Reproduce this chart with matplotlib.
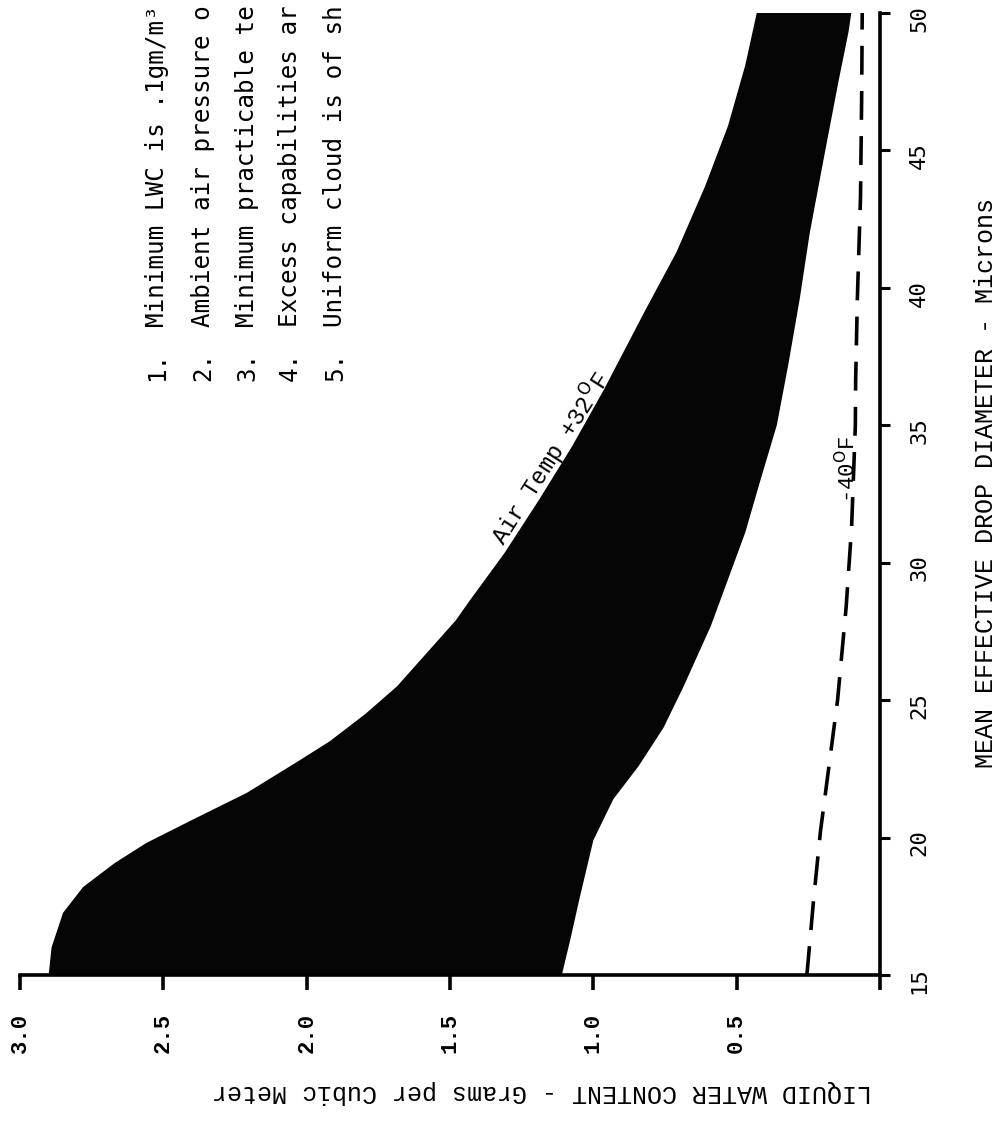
import numpy as np
import matplotlib.pyplot as plt

# drop diameter (microns) vs liquid water content (g/m^3)
outer_d = [15, 16.0, 17.26, 18.2, 19.07, 19.8, 20.64, 21.62, 22.71, 23.5,
           24.5, 25.5, 27.9, 28.64, 30.35, 32.28, 34.2, 36.28, 38.1, 39.2,
           41.3, 43.7, 45.9, 48.1, 50]
outer_lwc = [2.90, 2.89, 2.85, 2.78, 2.67, 2.56, 2.40, 2.21, 2.04, 1.92,
             1.795, 1.685, 1.48, 1.43, 1.31, 1.19, 1.076, 0.964, 0.873, 0.818,
             0.71, 0.61, 0.53, 0.47, 0.43]

inner_d = [15, 16.3, 17.7, 19.9, 21.4, 22.6, 24.0, 25.5, 27.7, 29.4, 31.1,
           32.9, 35.0, 37.2, 39.6, 42.0, 44.5, 47.5, 49.3, 50]
inner_lwc = [1.11, 1.08, 1.05, 1.00, 0.93, 0.842, 0.755, 0.685, 0.59, 0.53,
             0.47, 0.42, 0.36, 0.32, 0.28, 0.245, 0.20, 0.145, 0.11, 0.10]

cold_d = [15, 17.7, 20.2, 22.6, 25.0, 28.4, 31.3, 35.0, 36.6, 39.6, 43.3, 46.9, 50]
cold_lwc = [0.255, 0.232, 0.208, 0.178, 0.148, 0.118, 0.099, 0.086, 0.085,
            0.079, 0.068, 0.064, 0.062]

lwc_ticks = [3.0, 2.5, 2.0, 1.5, 1.0, 0.5, 0.0]
lwc_labels = ["3.0", "2.5", "2.0", "1.5", "1.0", "0.5", ""]
d_ticks = [15, 20, 25, 30, 35, 40, 45, 50]

notes = ["Minimum LWC is .1gm/m³",
         "Ambient air pressure o",
         "Minimum practicable te",
         "Excess capabilities ar",
         "Uniform cloud is of sh"]

W, H = 1002, 1126
fig = plt.figure(figsize=(W / 100, H / 100), dpi=100)
ax = fig.add_axes([20 / W, 151 / H, 860 / W, 962 / H])

# shaded band between the two boundary curves
ax.fill(np.concatenate([outer_lwc, inner_lwc[::-1]]),
        np.concatenate([outer_d, inner_d[::-1]]),
        color="#050505", lw=0)

ax.plot(cold_lwc, cold_d, color="black", lw=2.6, ls=(0, (8, 4.5)))

ax.set_xlim(3.0, 0)
ax.set_ylim(15, 50)

for s in ["left", "top"]:
    ax.spines[s].set_visible(False)
for s in ["bottom", "right"]:
    ax.spines[s].set_linewidth(2.6)

ax.yaxis.tick_right()
ax.set_xticks(lwc_ticks)
ax.set_xticklabels(lwc_labels)
ax.set_yticks(d_ticks)
ax.set_yticklabels([str(v) for v in d_ticks])
ax.tick_params(axis="x", direction="out", length=11, width=2.6, pad=16,
               labelrotation=90, labelsize=16)
ax.tick_params(axis="y", direction="out", length=7, width=2.2, pad=14,
               labelrotation=90, labelsize=16)
for lbl in ax.get_xticklabels():
    lbl.set_family("Liberation Mono")
    lbl.set_fontweight("bold")
for lbl in ax.get_yticklabels():
    lbl.set_family("DejaVu Sans Mono")

ax.text(1.15, 33.8, r"Air Temp +32$^{\rm O}$F", rotation=57.5,
        ha="center", va="center", fontsize=17, family="Liberation Mono")
ax.text(0.112, 33.4, r"-40$^{\rm O}$F", rotation=90,
        ha="center", va="center", fontsize=16, family="Liberation Mono")

# axis titles
fig.text(986 / W, 1 - 483 / H, "MEAN EFFECTIVE DROP DIAMETER - Microns",
         rotation=90, ha="center", va="center", fontsize=18,
         family="Liberation Mono")
fig.text(542 / W, 1 - 1092 / H, "LIQUID WATER CONTENT - Grams per Cubic Meter",
         rotation=180, ha="center", va="center", fontsize=18,
         family="Liberation Mono")

# numbered notes (run off the top of the page)
note_x = [157, 203, 247, 290, 335]
for i, (nx, txt) in enumerate(zip(note_x, notes)):
    fig.text(nx / W, 1 - 381 / H, f"{i + 1}.", rotation=90, ha="center",
             va="bottom", fontsize=17.5, family="DejaVu Sans Mono")
    fig.text(nx / W, 1 - 327 / H, txt, rotation=90, ha="center",
             va="bottom", fontsize=17.5, family="DejaVu Sans Mono")

fig.savefig("out.png", dpi=100)
